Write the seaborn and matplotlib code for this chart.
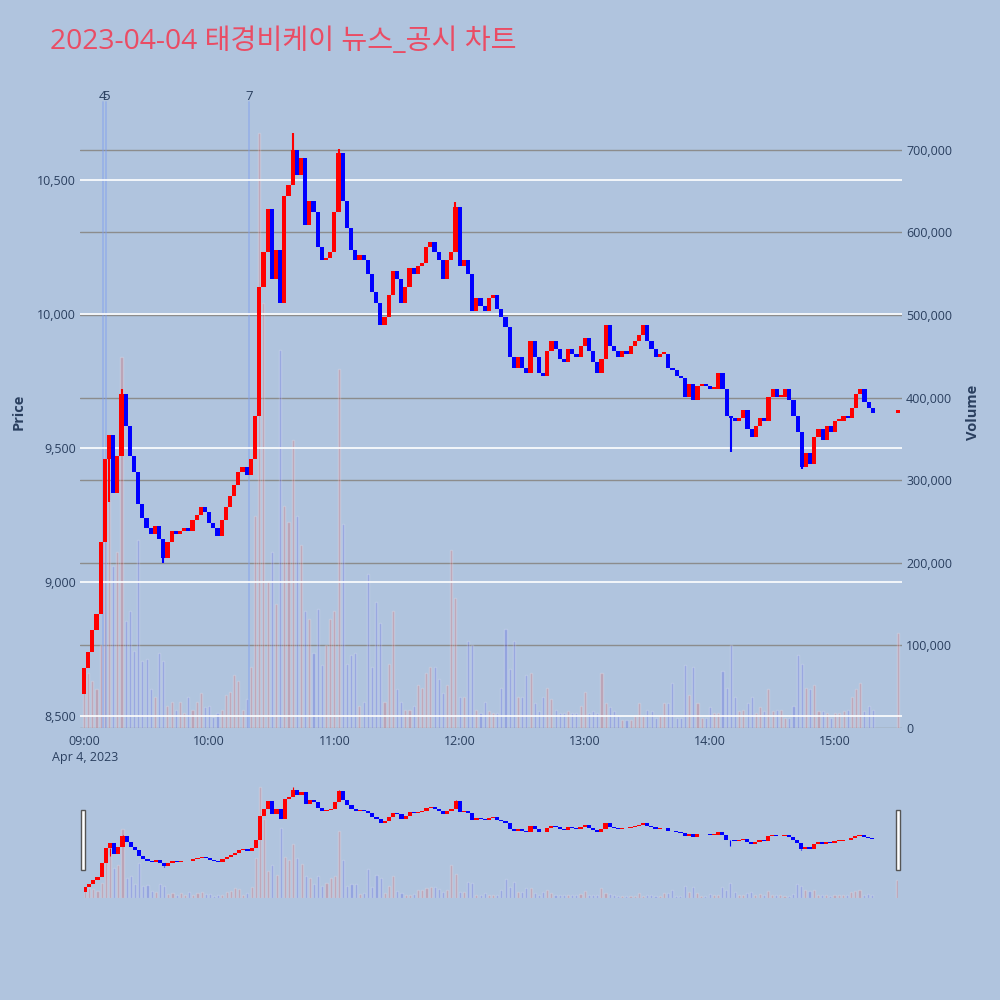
import numpy as np
import pandas as pd
import matplotlib.pyplot as plt
import matplotlib.transforms as mtransforms
from matplotlib.patches import Rectangle
import seaborn as sns

# ---- data (2-minute candles from 09:00) ----
title = "2023-04-04 태경비케이 뉴스_공시 차트"
first_open = 8580
closes = [
    8680, 8740, 8820, 8880, 9150, 9460, 9550, 9330, 9470, 9700,
    9580, 9470, 9410, 9290, 9240, 9200, 9180, 9210, 9160, 9090,
    9150, 9190, 9180, 9190, 9200, 9190, 9230, 9250, 9280, 9260,
    9220, 9200, 9170, 9230, 9280, 9320, 9360, 9410, 9430, 9400,
    9460, 9620, 10100, 10230, 10390, 10130, 10240, 10040, 10440, 10480,
    10610, 10520, 10580, 10330, 10420, 10380, 10250, 10200, 10210, 10230,
    10380, 10600, 10420, 10320, 10240, 10200, 10220, 10200, 10150, 10080,
    10040, 9960, 9990, 10070, 10160, 10130, 10040, 10100, 10170, 10150,
    10180, 10190, 10250, 10270, 10230, 10200, 10130, 10200, 10230, 10400,
    10180, 10200, 10150, 10010, 10060, 10030, 10010, 10060, 10070, 10020,
    9990, 9950, 9840, 9800, 9840, 9800, 9780, 9900, 9840, 9780,
    9770, 9860, 9900, 9870, 9830, 9820, 9870, 9850, 9840, 9880,
    9910, 9860, 9820, 9780, 9830, 9960, 9880, 9860, 9840, 9860,
    9850, 9880, 9900, 9920, 9960, 9900, 9870, 9840, 9850, 9850,
    9800, 9790, 9770, 9760, 9690, 9740, 9680, 9730, 9740, 9730,
    9720, 9720, 9780, 9720, 9620, 9610, 9600, 9610, 9640, 9570,
    9540, 9580, 9610, 9600, 9690, 9720, 9690, 9690, 9720, 9680,
    9620, 9560, 9430, 9480, 9440, 9540, 9570, 9530, 9580, 9560,
    9600, 9600, 9620, 9610, 9650, 9700, 9720, 9670, 9650, 9630,
]
volumes_k = [
    61, 66, 57, 47, 100, 232, 276, 196, 213, 449,
    130, 142, 93, 227, 81, 83, 47, 37, 91, 81,
    27, 32, 22, 32, 18, 37, 22, 32, 42, 25,
    27, 13, 18, 22, 40, 44, 64, 57, 22, 35,
    74, 257, 720, 515, 178, 213, 150, 457, 269, 249,
    349, 257, 222, 142, 132, 91, 144, 76, 100, 132,
    142, 435, 247, 78, 88, 91, 27, 32, 186, 74,
    152, 127, 32, 78, 142, 47, 32, 22, 22, 27,
    52, 49, 66, 74, 74, 59, 42, 52, 215, 157,
    37, 37, 105, 100, 22, 18, 32, 20, 18, 18,
    49, 120, 71, 105, 37, 37, 64, 66, 30, 20,
    37, 49, 35, 22, 18, 18, 20, 18, 18, 27,
    44, 18, 20, 18, 66, 30, 25, 20, 15, 10,
    10, 10, 15, 30, 15, 22, 20, 12, 15, 30,
    30, 54, 12, 12, 76, 40, 74, 30, 12, 12,
    25, 18, 18, 69, 49, 100, 37, 20, 22, 30,
    37, 18, 25, 20, 47, 20, 22, 22, 12, 12,
    27, 88, 78, 49, 47, 52, 20, 20, 18, 12,
    18, 18, 20, 22, 37, 47, 54, 20, 27, 22,
]
# closing auction at 15:30
close_1530 = 9640
volume_1530_k = 115

# a few long wicks (minute, extreme price)
wick_minutes = [12, 18, 38, 100, 122, 178, 310, 344]
wick_prices = [9300, 9720, 9070, 10675, 10617, 10418, 9485, 9420]

news_minutes = [9, 10.5, 79]
news_labels = ["4", "5", "7"]
hour_labels = ["09:00", "10:00", "11:00", "12:00", "13:00", "14:00", "15:00"]
price_ticks = [8500, 9000, 9500, 10000, 10500]
volume_ticks = [0, 100000, 200000, 300000, 400000, 500000, 600000, 700000]

minutes = list(range(0, 2 * len(closes), 2)) + [390]
df = pd.DataFrame({
    "minute": minutes,
    "close": closes + [close_1530],
    "volume": [v * 1000 for v in volumes_k + [volume_1530_k]],
})
df["open"] = df["close"].shift(1).fillna(first_open)
df["dir"] = np.where(df["close"] >= df["open"], "up", "down")

PAPER = "#B0C4DE"
PLOT_BG = "#E5ECF6"
TXT = "#2a3f5f"

sns.set_theme(style="white")
plt.rcParams["font.family"] = ["Open Sans", "Noto Sans CJK KR", "DejaVu Sans"]


def draw_panel(ax, axv, body_w, wick_lw):
    """ volume bars behind, candles in front """
    sns.barplot(data=df, x="minute", y="volume", hue="dir",
                palette={"up": "red", "down": "blue"}, native_scale=True,
                dodge=False, errorbar=None, alpha=0.22, width=0.5,
                legend=False, ax=axv)
    body = (df["close"] - df["open"]).abs().clip(lower=8)
    bottom = df[["open", "close"]].min(axis=1)
    colors = np.where(df["dir"] == "up", "#FF0000", "#0000FF")
    ax.bar(df["minute"], body, bottom=bottom, width=body_w, color=colors,
           linewidth=0)
    # wicks
    for m, p in zip(wick_minutes, wick_prices):
        row = df[df["minute"] == m].iloc[0]
        col = "#FF0000" if row["dir"] == "up" else "#0000FF"
        ref = max(row["open"], row["close"]) if p > row["close"] else min(row["open"], row["close"])
        ax.plot([m, m], [ref, p], color=col, lw=wick_lw, solid_capstyle="butt")
    ax.set_zorder(axv.get_zorder() + 1)
    ax.patch.set_visible(False)
    axv.set_facecolor(PLOT_BG)
    ax.set_ylim(8455, 10813)
    axv.set_ylim(0, 765000)
    for a in (ax, axv):
        for s in a.spines.values():
            s.set_visible(False)
        a.set_xlabel("")
        a.set_ylabel("")


fig = plt.figure(figsize=(10, 10), dpi=100)
fig.patch.set_facecolor(PAPER)

# main chart
ax = fig.add_axes([0.080, 0.272, 0.822, 0.632])
axv = ax.twinx()
draw_panel(ax, axv, 2.0, 1.5)
ax.set_xlim(-1.9, 392)
axv.set_xlim(-1.9, 392)

ax.set_yticks(price_ticks)
ax.set_yticklabels([f"{p:,}" for p in price_ticks])
axv.set_yticks(volume_ticks)
axv.set_yticklabels([f"{v:,}" for v in volume_ticks])
ax.set_xticks([60 * i for i in range(len(hour_labels))])
ax.set_xticklabels(hour_labels)
ax.tick_params(axis="both", length=0, labelsize=9, colors=TXT)
ax.tick_params(axis="y", pad=3)
ax.tick_params(axis="x", pad=5)
axv.tick_params(axis="y", length=0, labelsize=9, colors=TXT, pad=3)
axv.tick_params(axis="x", length=0, labelbottom=False)
ax.grid(False)
axv.grid(False)
ax.yaxis.grid(True, color="white", linewidth=1.2)
axv.yaxis.grid(True, color="#8c8c8c", linewidth=1.0)

# news markers
trans = mtransforms.blended_transform_factory(ax.transData, ax.transAxes)
for m, lab in zip(news_minutes, news_labels):
    ax.axvline(m, ymin=0, ymax=0.99, color="#7f9ff0", alpha=0.45, lw=1.4,
               zorder=0)
    ax.text(m, 1.0, lab, transform=trans, ha="center", va="center",
            fontsize=9.5, color=TXT)

ax.set_ylabel("Price", fontsize=10.5, fontweight="bold", color=TXT,
              labelpad=8)
axv.set_ylabel("Volume", fontsize=10.5, fontweight="bold", color=TXT,
               labelpad=10)
fig.text(0.085, 1 - 0.758, "Apr 4, 2023", ha="center", va="center",
         fontsize=9, color=TXT)

# range slider
axs = fig.add_axes([0.084, 0.102, 0.814, 0.118])
axsv = axs.twinx()
draw_panel(axs, axsv, 2.0, 0.8)
axs.set_xlim(-0.5, 390.5)
axsv.set_xlim(-0.5, 390.5)
for a in (axs, axsv):
    a.set_xticks([])
    a.set_yticks([])
    a.grid(False)
for hx in (0.0805, 0.8955):
    fig.patches.append(Rectangle((hx, 0.130), 0.004, 0.060,
                                 transform=fig.transFigure, facecolor="white",
                                 edgecolor="#555555", lw=1, zorder=5))

fig.text(0.05, 1 - 0.042, title, fontsize=20.3, color="#EA4C64",
         ha="left", va="center")

fig.savefig("out.png", dpi=100, facecolor=PAPER)
